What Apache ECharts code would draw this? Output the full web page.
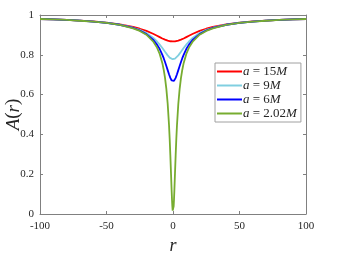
<!DOCTYPE html>
<html>
<head>
<meta charset="utf-8">
<script src="https://cdn.jsdelivr.net/npm/echarts@6/dist/echarts.min.js"></script>
<style>html,body{margin:0;padding:0;background:#fff;}#c{width:364px;height:262px;}</style>
</head>
<body>
<div id="c"></div>
<script>
const rValues = [-100,-90,-80,-70,-60,-50,-40,-30,-25,-20,-15,-12,-10,-8,-7,-6,-5,-4,-3,-2.5,-2,-1.5,-1,-0.75,-0.5,-0.25,0,0.25,0.5,0.75,1,1.5,2,2.5,3,4,5,6,7,8,10,12,15,20,25,30,40,50,60,70,80,90,100];
const a15 = [0.980,0.978,0.975,0.972,0.968,0.962,0.953,0.940,0.931,0.920,0.906,0.896,0.889,0.882,0.879,0.876,0.874,0.871,0.869,0.868,0.868,0.867,0.867,0.867,0.867,0.867,
  0.867,
  0.867,0.867,0.867,0.867,0.867,0.868,0.868,0.869,0.871,0.874,0.876,0.879,0.882,0.889,0.896,0.906,0.920,0.931,0.940,0.953,0.962,0.968,0.972,0.975,0.978,0.980];
const a9 = [0.980,0.978,0.975,0.972,0.967,0.961,0.951,0.936,0.925,0.909,0.886,0.867,0.851,0.834,0.825,0.815,0.806,0.797,0.789,0.786,0.783,0.781,0.779,0.779,0.778,0.778,
  0.778,
  0.778,0.778,0.779,0.779,0.781,0.783,0.786,0.789,0.797,0.806,0.815,0.825,0.834,0.851,0.867,0.886,0.909,0.925,0.936,0.951,0.961,0.967,0.972,0.975,0.978,0.980];
const a6 = [0.980,0.978,0.975,0.972,0.967,0.960,0.951,0.935,0.922,0.904,0.876,0.851,0.829,0.800,0.783,0.764,0.744,0.723,0.702,0.692,0.684,0.677,0.671,0.669,0.668,0.667,
  0.667,
  0.667,0.668,0.669,0.671,0.677,0.684,0.692,0.702,0.723,0.744,0.764,0.783,0.800,0.829,0.851,0.876,0.904,0.922,0.935,0.951,0.960,0.967,0.972,0.975,0.978,0.980];
const a202 = [0.980,0.978,0.975,0.971,0.967,0.960,0.950,0.933,0.920,0.901,0.868,0.836,0.804,0.758,0.725,0.684,0.629,0.554,0.447,0.378,0.296,0.205,0.113,0.072,0.039,0.017,
  0.010,
  0.017,0.039,0.072,0.113,0.205,0.296,0.378,0.447,0.554,0.629,0.684,0.725,0.758,0.804,0.836,0.868,0.901,0.920,0.933,0.950,0.960,0.967,0.971,0.975,0.978,0.980];
const seriesNames = ['a15','a9','a6','a202'];
const legendLabels = {a15:'{i|a} = 15{i|M}', a9:'{i|a} = 9{i|M}', a6:'{i|a} = 6{i|M}', a202:'{i|a} = 2.02{i|M}'};
const xTicks = [-100,-50,0,50,100];
const yTicks = [0,0.2,0.4,0.6,0.8,1];

const colors = ['#ff0000','#80cfe0','#0000ff','#77ac30'];
const dataSets = [a15,a9,a6,a202];
const serif = '"Liberation Serif","DejaVu Serif",serif';
const axisGray = '#808080';
const labelColor = '#262626';

const chart = echarts.init(document.getElementById('c'), null, {renderer:'canvas'});
const mkSeries = (name, arr, color) => ({
  name, type:'line', data: rValues.map((r,i)=>[r,arr[i]]),
  symbol:'none', showSymbol:false, smooth:false,
  lineStyle:{color, width:1.8}, itemStyle:{color},
  xAxisIndex:0, yAxisIndex:0, z:3
});
chart.setOption({
  animation:false,
  backgroundColor:'#fff',
  grid:{left:40, right:58, top:15, bottom:48, containLabel:false, outerBoundsMode:'none'},
  legend:{
    orient:'vertical', left:215, top:63,
    data: seriesNames,
    formatter: n => legendLabels[n],
    icon:'path://M0,0 L25,0 L25,2 L0,2 Z',
    itemWidth:25, itemHeight:10, itemGap:1,
    padding:[2,4,2,2],
    backgroundColor:'#fff', borderColor:'#a0a0a0', borderWidth:1, borderRadius:0,
    textStyle:{fontFamily:serif, fontSize:13, lineHeight:13, color:labelColor, padding:[0,0,0,-4],
      rich:{i:{fontFamily:serif, fontStyle:'italic', fontSize:13, lineHeight:13, color:labelColor}}}
  },
  xAxis:[{
    type:'value', min:-100, max:100, interval:50, position:'bottom',
    name:'r', nameLocation:'middle', nameGap:23, nameMoveOverlap:false,
    nameTextStyle:{fontFamily:serif, fontStyle:'italic', fontSize:18, color:labelColor},
    axisLine:{show:true, onZero:false, lineStyle:{color:axisGray, width:1}},
    axisTick:{show:true, inside:true, length:3, lineStyle:{color:axisGray}},
    axisLabel:{fontFamily:serif, fontSize:11, color:labelColor, margin:7,
      formatter: v => xTicks.includes(v) ? String(v) : ''},
    splitLine:{show:false}
  },{
    type:'value', min:-100, max:100, interval:50, position:'top',
    axisLine:{show:true, onZero:false, lineStyle:{color:axisGray, width:1}},
    axisTick:{show:true, inside:true, length:3, lineStyle:{color:axisGray}},
    axisLabel:{show:false}, splitLine:{show:false}
  }],
  yAxis:[{
    type:'value', min:0, max:1, interval:0.2, position:'left',
    name:'{i|A}({i|r})', nameLocation:'middle', nameGap:17, nameMoveOverlap:false,
    nameTextStyle:{fontFamily:serif, fontSize:19, color:labelColor,
      rich:{i:{fontFamily:serif, fontStyle:'italic', fontSize:19, color:labelColor}}},
    axisLine:{show:true, onZero:false, lineStyle:{color:axisGray, width:1}},
    axisTick:{show:true, inside:true, length:3, lineStyle:{color:axisGray}},
    axisLabel:{fontFamily:serif, fontSize:11, color:labelColor, margin:6,
      formatter: v => { const t = yTicks.find(y=>Math.abs(y-v)<1e-9); return t===undefined ? '' : String(t); }},
    splitLine:{show:false}
  },{
    type:'value', min:0, max:1, interval:0.2, position:'right',
    axisLine:{show:true, onZero:false, lineStyle:{color:axisGray, width:1}},
    axisTick:{show:true, inside:true, length:3, lineStyle:{color:axisGray}},
    axisLabel:{show:false}, splitLine:{show:false}
  }],
  series: seriesNames.map((n,i)=>mkSeries(n, dataSets[i], colors[i]))
});
</script>
</body>
</html>
